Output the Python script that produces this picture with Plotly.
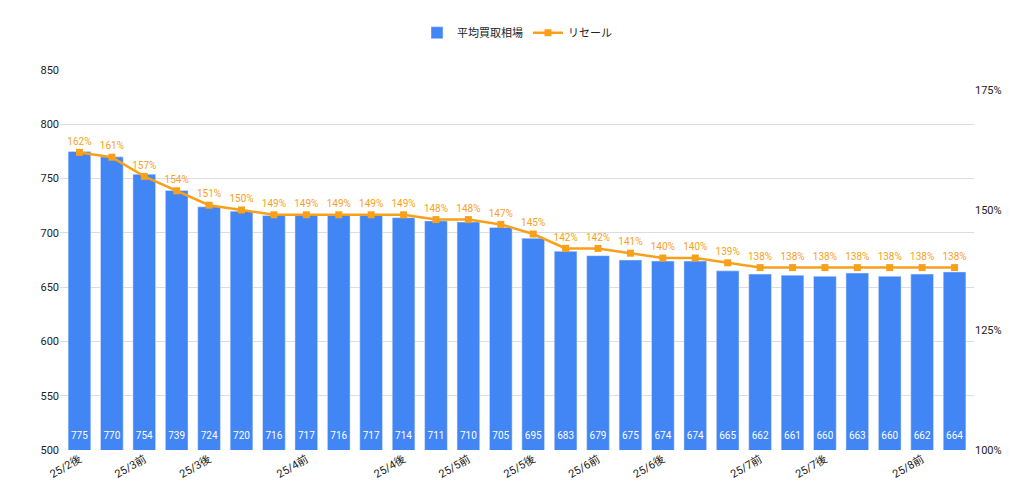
import plotly.graph_objects as go

periods = ["25/2後", "", "25/3前", "", "25/3後", "", "", "25/4前", "", "", "25/4後", "", "25/5前", "",
           "25/5後", "", "25/6前", "", "25/6後", "", "", "25/7前", "", "25/7後", "", "", "25/8前", ""]
avg_price = [775, 770, 754, 739, 724, 720, 716, 717, 716, 717, 714, 711, 710, 705,
             695, 683, 679, 675, 674, 674, 665, 662, 661, 660, 663, 660, 662, 664]
resale = [162, 161, 157, 154, 151, 150, 149, 149, 149, 149, 149, 148, 148, 147,
          145, 142, 142, 141, 140, 140, 139, 138, 138, 138, 138, 138, 138, 138]

x = list(range(len(avg_price)))
tickvals = [i for i, p in enumerate(periods) if p]
ticktext = [p for p in periods if p]

fig = go.Figure()
fig.add_trace(go.Bar(
    x=x, y=avg_price, name="平均買取相場", marker_color="#4285f4", width=0.7,
))
# value labels at the foot of each bar
fig.add_trace(go.Scatter(
    x=x, y=[512] * len(x), mode="text", text=[str(v) for v in avg_price],
    textfont=dict(color="white", size=10), showlegend=False, hoverinfo="skip",
))
fig.add_trace(go.Scatter(
    x=x, y=[v / 100 for v in resale], name="リセール", yaxis="y2",
    mode="lines+markers+text", line=dict(color="#f9a01b", width=2.5),
    marker=dict(symbol="square", size=7, color="#f9a01b"),
    text=[f"{v}%" for v in resale], textposition="top center",
    textfont=dict(color="#f9a01b", size=10),
))

fig.update_layout(
    width=1024, height=496,
    font=dict(family="Roboto, Noto Sans CJK JP", size=11, color="#222"),
    plot_bgcolor="white", paper_bgcolor="white",
    margin=dict(l=52, r=58, t=62, b=54, autoexpand=False),
    legend=dict(orientation="h", x=0.5, xanchor="center", y=1.06, yanchor="bottom",
                font=dict(size=11)),
    xaxis=dict(tickvals=tickvals, ticktext=ticktext, tickangle=-30, range=[-0.6, 27.6],
               showgrid=False),
    yaxis=dict(range=[500, 850], dtick=50, gridcolor="#dddddd", zeroline=False),
    yaxis2=dict(overlaying="y", side="right", range=[1.0, 1.0 + 380 / 120 * 0.25],
                tickvals=[1.0, 1.25, 1.5, 1.75], tickformat=".0%", showgrid=False),
)

fig.write_html("out.html")
